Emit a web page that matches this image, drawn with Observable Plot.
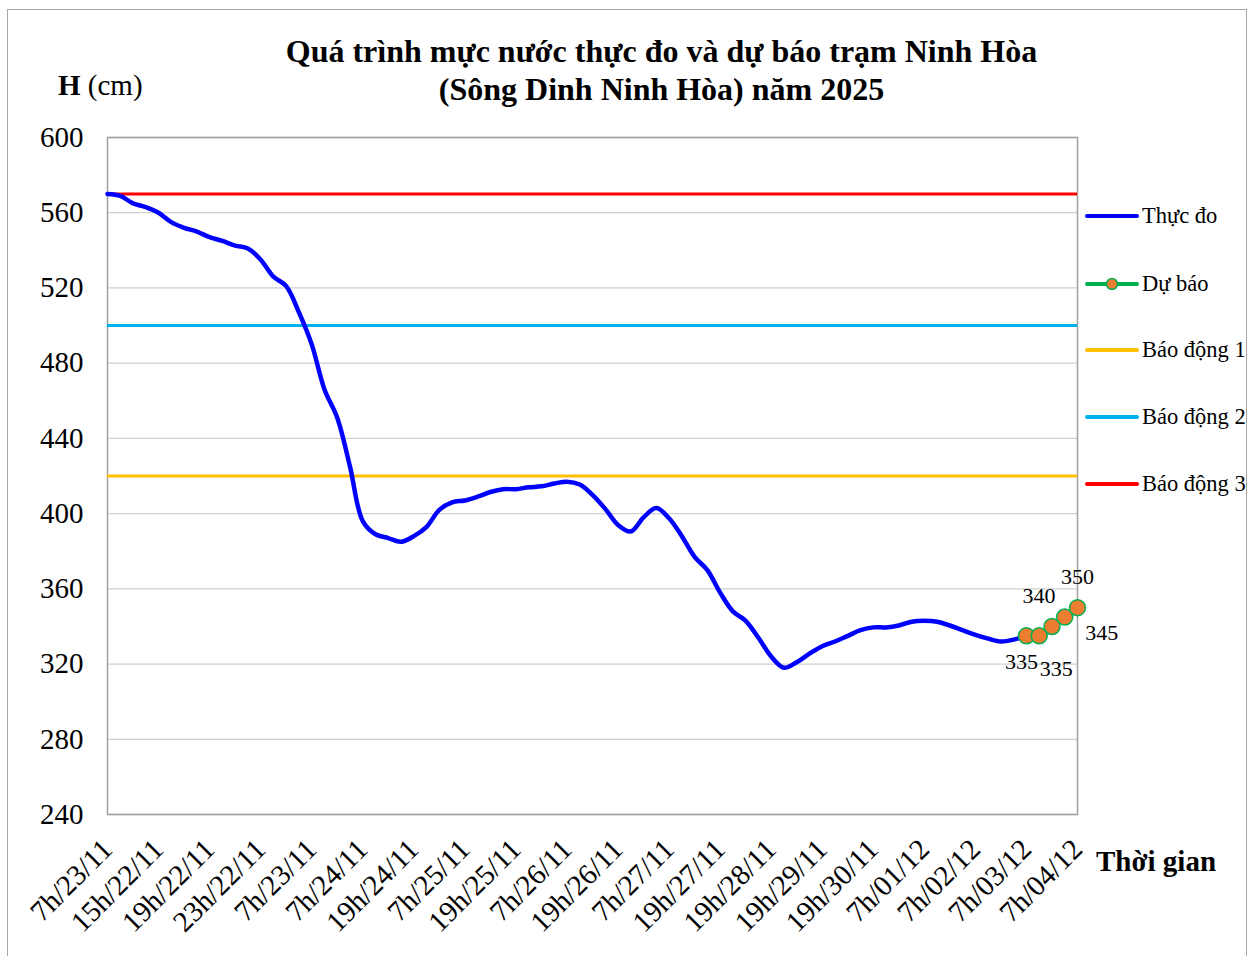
<!DOCTYPE html>
<html>
<head>
<meta charset="utf-8">
<script src="https://cdn.jsdelivr.net/npm/d3@7"></script>
<script src="https://cdn.jsdelivr.net/npm/@observablehq/plot@0.6"></script>
<style>
  html, body { margin: 0; padding: 0; background: #fff; overflow: hidden; }
  #wrap { position: relative; width: 1255px; height: 956px; font-family: "Liberation Serif", "Times New Roman", serif; color: #000; }
  #border { position: absolute; left: 7px; top: 9px; width: 1240px; height: 960px; border: 1.5px solid #a6a6a6; box-sizing: border-box; }
  #chart { position: absolute; left: 0; top: 0; }
  .title { position: absolute; left: 0; width: 1323px; text-align: center; font-weight: bold; font-size: 32px; line-height: 38px; top: 32px; }
  .ylab { position: absolute; left: 58px; top: 69px; font-size: 29px; }
  .xlab { position: absolute; left: 1096px; top: 845px; font-size: 29px; font-weight: bold; }
  .leg { position: absolute; left: 1085px; font-size: 22.5px; height: 30px; display: flex; align-items: center; white-space: nowrap; }
  .leg svg { margin-right: 3px; }
</style>
</head>
<body>
<div id="wrap">
  <div id="chart"></div>
  <div id="border"></div>
  <div class="title">Quá trình mực nước thực đo và dự báo trạm Ninh Hòa<br>(Sông Dinh Ninh Hòa) năm 2025</div>
  <div class="ylab"><b>H</b> (cm)</div>
  <div class="xlab">Thời gian</div>
</div>
<script>
// ---- data ----
const tickLabels = ["7h/23/11","15h/22/11","19h/22/11","23h/22/11","7h/23/11","7h/24/11","19h/24/11","7h/25/11","19h/25/11","7h/26/11","19h/26/11","7h/27/11","19h/27/11","19h/28/11","19h/29/11","19h/30/11","7h/01/12","7h/02/12","7h/03/12","7h/04/12"];
const observed = [570,569,565,563,560,555,552,550,547,545,542.5,541,535,526,521,507,490,466,451,425,396,389,387,385,388,393,402,406,407,409,411.5,413,413,414,414.5,416,417,415.5,410,402.5,394,390.5,398,403,397.5,388,377,370,358,348,343,334,324,318,321,325.5,329.5,332,335,338,339.5,339.5,340.5,342.5,343,342.5,340.5,338,335.5,333.5,332,333,335];
const forecast = [335,335,340,345,350];
const forecastStart = 72;
const alarms = [
  {name: "Báo động 1", value: 420, color: "#FFC000"},
  {name: "Báo động 2", value: 500, color: "#00B0F0"},
  {name: "Báo động 3", value: 570, color: "#FF0000"}
];
const yTicks = [240,280,320,360,400,440,480,520,560,600];
const labelsPerTick = 4;
// label offsets (style) for forecast data labels
const fcLabelDx = [-5, 17, -13, 37, 0];
const fcLabelDy = [26, 33, -30, 16, -31];

const obsData = observed.map((v, i) => ({i, v}));
const fcData = forecast.map((v, k) => ({i: forecastStart + k, v, k}));
const xTicks = tickLabels.map((_, j) => j * labelsPerTick);

const font = '"Liberation Serif", "Times New Roman", serif';

const chart = Plot.plot({
  width: 1255,
  height: 956,
  marginLeft: 107,
  marginRight: 178,
  marginTop: 137,
  marginBottom: 142,
  style: {fontFamily: font, background: "transparent", color: "#000"},
  x: {domain: [0, 76]},
  y: {domain: [240, 600]},
  marks: [
    Plot.ruleY(yTicks, {stroke: "#d0d0d0", strokeWidth: 1.3}),
    Plot.frame({stroke: "#a0a0a0", strokeWidth: 1.5}),
    Plot.axisY({ticks: yTicks, tickSize: 0, tickPadding: 24, fontSize: 29, label: null}),
    Plot.axisX({ticks: xTicks, tickFormat: d => tickLabels[d / labelsPerTick], tickRotate: -45, tickSize: 0, tickPadding: 30, fontSize: 29, label: null}),
    Plot.ruleY(alarms, {y: "value", stroke: "color", strokeWidth: 3}),
    Plot.line(obsData, {x: "i", y: "v", stroke: "#0000FF", strokeWidth: 4.5, curve: "catmull-rom"}),
    Plot.line(fcData, {x: "i", y: "v", stroke: "#00B050", strokeWidth: 3, curve: "catmull-rom"}),
    Plot.dot(fcData, {x: "i", y: "v", r: 8, fill: "#ED7D31", stroke: "#00B050", strokeWidth: 1.5}),
    Plot.text(fcData, {x: "i", y: "v", text: d => String(d.v), fontSize: 22, fill: "#000"})
  ]
});
document.getElementById("chart").appendChild(chart);

// offset each forecast data label like the reference
{
  const texts = chart.querySelectorAll('g[aria-label="text"] text');
  texts.forEach((t, k) => {
    const tr = t.getAttribute("transform") || "";
    t.setAttribute("transform", tr + ` translate(${fcLabelDx[k]},${fcLabelDy[k]})`);
  });
}

// legend
const legendItems = [
  {name: "Thực đo", color: "#0000FF", dot: false, y: 216},
  {name: "Dự báo", color: "#00B050", dot: true, y: 284},
  ...alarms.map((a, j) => ({name: a.name, color: a.color, dot: false, y: [350, 417, 484][j]}))
];
const wrap = document.getElementById("wrap");
for (const it of legendItems) {
  const div = document.createElement("div");
  div.className = "leg";
  div.style.top = (it.y - 15) + "px";
  div.innerHTML = `<svg width="54" height="20"><line x1="2" x2="52" y1="10" y2="10" stroke="${it.color}" stroke-width="4" stroke-linecap="round"/>${it.dot ? '<circle cx="27" cy="10" r="5.5" fill="#ED7D31" stroke="#00B050" stroke-width="1.5"/>' : ''}</svg><span>${it.name}</span>`;
  wrap.appendChild(div);
}
</script>
</body>
</html>
